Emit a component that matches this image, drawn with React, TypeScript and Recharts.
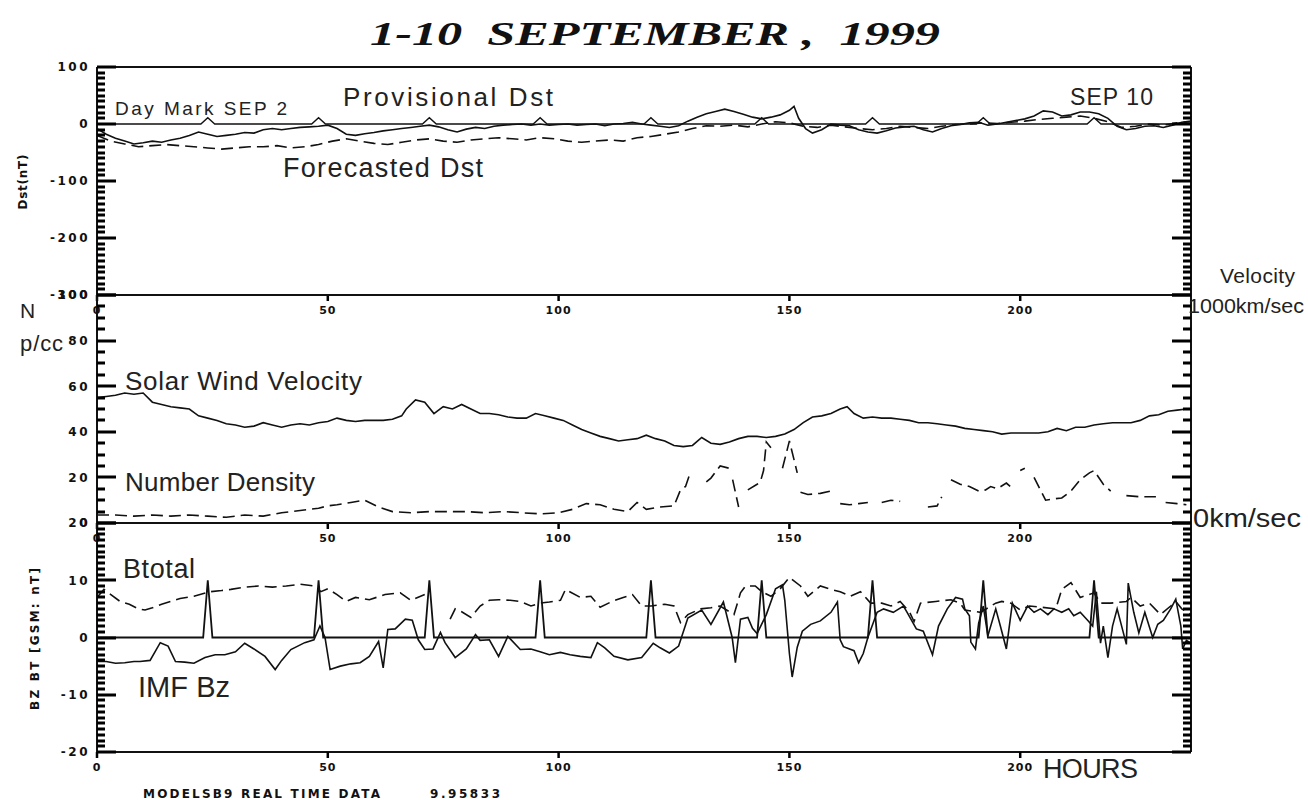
import React from "react";
import { LineChart, Line, XAxis, YAxis } from "recharts";

const W = 1308;
const H = 800;
const PLOT_LEFT = 97;
const PLOT_RIGHT = 1191;
const HOUR_MAX = 237;
const hourTicks = [0, 50, 100, 150, 200];

type Pt = [number, number | null];

// ---- top panel: Dst (nT) ----
const dstProvisional: Pt[] = [
  [0, -8], [2, -18], [4, -25], [6, -30], [8, -35], [10, -33], [12, -30], [14, -32], [16, -28], [18, -25],
  [20, -20], [22, -14], [24, -18], [26, -22], [28, -20], [30, -18], [32, -15], [34, -16], [36, -10], [38, -8],
  [40, -10], [42, -8], [44, -6], [46, -5], [48, -4], [50, -2], [52, -8], [54, -18], [56, -20], [58, -17],
  [60, -15], [62, -12], [64, -10], [66, -8], [68, -6], [70, -4], [72, -2], [74, -5], [76, -10], [78, -14],
  [80, -9], [82, -6], [84, -8], [86, -4], [88, -2], [90, -1], [92, 0], [94, -2], [96, 0], [98, -2],
  [100, -1], [102, 0], [104, -2], [106, -1], [108, 0], [110, -3], [112, 0], [114, 1], [116, 3], [118, 0],
  [120, -2], [122, -4], [124, -6], [126, -3], [128, 5], [130, 12], [132, 18], [134, 22], [136, 26], [138, 22],
  [140, 17], [142, 12], [144, 9], [146, 12], [148, 16], [150, 24], [151, 31], [152, 10], [153.5, -8], [155, -16],
  [157, -10], [159, 0], [161, -2], [163, -3], [165, -10], [167, -14], [169, -16], [171, -12], [173, -7], [175, -5],
  [177, -4], [179, -10], [181, -14], [183, -8], [185, -3], [187, -1], [189, 2], [191, 3], [193, -2], [195, 0],
  [197, 3], [199, 6], [201, 9], [203, 14], [205, 23], [207, 21], [209, 14], [211, 16], [213, 21], [215, 21],
  [217, 18], [219, 10], [221, -4], [223, -10], [225, -8], [227, -4], [229, -3], [231, -6], [233, -2], [235, 3], [237, 5],
];

const dstForecast: Pt[] = [
  [0, -20], [3, -30], [6, -35], [9, -40], [12, -38], [15, -36], [18, -38], [21, -40], [24, -42], [27, -44],
  [30, -42], [33, -40], [36, -40], [39, -38], [42, -42], [45, -40], [48, -36], [51, -30], [54, -26], [57, -30],
  [60, -34], [63, -36], [66, -32], [69, -28], [72, -26], [75, -30], [78, -32], [81, -28], [84, -26], [87, -24],
  [90, -26], [93, -28], [96, -24], [99, -26], [102, -30], [105, -32], [108, -30], [111, -28], [114, -30], [117, -24],
  [120, -22], [123, -18], [126, -14], [129, -8], [132, -3], [135, -4], [138, -2], [141, -5], [144, 0], [147, 4],
  [150, 2], [153, -4], [156, -6], [159, -2], [162, -5], [165, -8], [168, -10], [171, -8], [174, -4], [177, -6],
  [180, -8], [183, -4], [186, -1], [189, 0], [192, 2], [195, 1], [198, 3], [201, 5], [204, 8], [207, 10],
  [210, 12], [213, 14], [216, 10], [219, 4], [222, -6], [225, -4], [228, 0], [231, -2], [234, 2], [237, 4],
];

// zero line with small day-mark bumps
const dstDayMarks: Pt[] = [
  [0, 0], [22.5, 0], [24, 11], [25.5, 0], [46.5, 0], [48, 11], [49.5, 0], [70.5, 0], [72, 11], [73.5, 0],
  [94.5, 0], [96, 11], [97.5, 0], [118.5, 0], [120, 11], [121.5, 0], [142.5, 0], [144, 11], [145.5, 0],
  [166.5, 0], [168, 11], [169.5, 0], [190.5, 0], [192, 11], [193.5, 0], [214.5, 0], [216, 11], [217.5, 0], [237, 0],
];

// ---- middle panel: velocity (x10 km/s) and density (p/cc) ----
const velocity: Pt[] = [
  [0, 55], [2, 55.5], [4, 56], [6, 57], [8, 56.5], [10, 57], [12, 53], [14, 52], [16, 51], [18, 50.5],
  [20, 50], [22, 47], [24, 46], [26, 45], [28, 43.5], [30, 43], [32, 42], [34, 42.5], [36, 44], [38, 43],
  [40, 42], [42, 43], [44, 43.5], [46, 43], [48, 44], [50, 44.5], [52, 46], [54, 45], [56, 44.5], [58, 45],
  [60, 45], [62, 45], [64, 45.5], [66, 47], [67, 50], [69, 54], [71, 53], [73, 48], [75, 51], [77, 50],
  [79, 52], [81, 50], [83, 48], [85, 48], [87, 47.5], [89, 46.5], [91, 46], [93, 46], [95, 48], [97, 47],
  [99, 46], [101, 45], [103, 43], [105, 41], [107, 39.5], [109, 38], [111, 37], [113, 36], [115, 36.5], [117, 37],
  [119, 38.5], [121, 37], [123, 36], [125, 34], [127, 33.5], [129, 34], [131, 37.5], [133, 35], [135, 34.5], [137, 35.5],
  [139, 37], [141, 38], [143, 38], [145, 37.5], [147, 38], [149, 39], [151, 41], [153, 44], [155, 46.5], [157, 47],
  [159, 48], [161, 50], [162.5, 51], [164, 48], [166, 46], [168, 46.5], [170, 46], [172, 46], [174, 45.5], [176, 45],
  [178, 44], [180, 44], [182, 43.5], [184, 43], [186, 42.5], [188, 41.5], [190, 41], [192, 40.5], [194, 40], [196, 39],
  [198, 39.5], [200, 39.5], [202, 39.5], [204, 39.5], [206, 40], [208, 41.5], [210, 40.5], [212, 42], [214, 42], [216, 43],
  [218, 43.5], [220, 44], [222, 44], [224, 44], [226, 45], [228, 47], [230, 47.5], [232, 49], [234, 49.5], [236, 50], [237, 50],
];

const density: Pt[] = [
  [0, 3.5], [4, 3.5], [8, 3], [12, 3.5], [16, 3], [20, 3.5], [24, 3], [28, 2.5], [32, 3.5], [36, 3],
  [40, 4.5], [44, 5.5], [48, 6.5], [50, 7.5], [52, 8], [55, 9], [58, 10], [61, 7], [64, 5], [68, 4.5],
  [72, 5], [76, 5], [80, 5], [84, 4.5], [88, 5], [92, 4.5], [96, 4], [100, 4.5], [103, 6], [106, 8.5],
  [109, 8], [112, 6], [115, 5], [117, 9], [119, 6], [122, 7], [125, 7.5], [126.4, 14.5], [127.5, 16], [128.5, 22],
  [129.5, null], [132, 18], [133, 19.7], [135, 25], [137, 24], [137.5, null], [137.7, 19], [139, 7], [139.6, null], [141, 14.5],
  [143, 17], [143.7, 18], [144.4, 23], [145, 35.5], [146, 33], [146.5, null], [148.5, 24], [150, 36], [151.7, 22], [152, null],
  [152.4, 13.5], [154, 12.5], [156.7, 13], [159, 14], [160, null], [161, 8.5], [163, 8], [165, 8.5], [167, 9], [168, null],
  [170, 9], [172, 10], [174, 9.5], [176, null], [180, 7], [182, 7.5], [183, 11.5], [184, null], [185, 19], [187, 17],
  [189, 16], [191, 14], [192.5, 14.5], [193.6, 16], [195, 15], [197, 17.5], [198.4, 15], [199.5, null], [200, 23], [201, 24],
  [202, null], [203, 20], [205.5, 10], [207, 10.5], [209, 11], [211, 14], [213, 19], [215, 22], [216, 23], [218, 17],
  [219.6, 14], [221, null], [223, 12], [226, 11.5], [229.4, 11.5], [230, null], [231.5, 9], [234, 8.5], [236, 8],
];

// ---- bottom panel: IMF (nT) ----
const btotal: Pt[] = [
  [0, 7], [1.5, 8.4], [3, 7.5], [5, 6.3], [7, 5.8], [9, 5], [10.4, 4.8], [12, 5.2], [14, 5.8], [16, 6.3],
  [18, 6.8], [21, 7.2], [24.5, 8], [27, 8.2], [29, 8.4], [32, 8.8], [35, 9], [38, 8.8], [41, 9], [44, 9.3],
  [47, 9], [48.5, 8], [50, 8.5], [52, 7.5], [54, 6.3], [56, 7], [59, 6.6], [62.4, 7.5], [65.7, 7.8], [68, 6.5],
  [71, 7.5], [73, null], [76.5, 3.2], [77.6, 5], [79, 4.5], [81, 3.5], [83, 5.5], [85, 6.5], [87, 6.6], [89.5, 6.5],
  [91.7, 6.3], [94, 5.5], [96, 6], [98, 6.2], [100.4, 6.5], [101.5, 8.4], [104.7, 7], [107, 7.2], [109, 5.3], [111.6, 6.3],
  [114, 7], [116, 7.5], [118, 5.5], [120, 5.5], [123, 5.8], [125, 5.5], [126.4, 2.6], [128, 4], [130.7, 5], [133, 5.2],
  [135, 5.5], [138, 4], [139.4, 7.8], [140.5, 9], [142.6, 9], [144, 8], [146, 7.2], [148, 8.5], [150, 10.5], [152.4, 9],
  [154, 7.2], [156.7, 9], [159, 8.4], [161, 8], [163.2, 7.2], [165.4, 8], [167.6, 6], [170, 6], [172, 5.5], [174, 6.3],
  [176, 4.5], [177, 2.8], [178.4, 6], [181.7, 6.3], [185, 6.6], [187, 6], [188, 4.8], [191.4, 4.4], [194.7, 6], [196, 6.3],
  [198, 6], [200, 4.8], [202, 5.5], [204.4, 5.3], [207.7, 5], [209, 8.4], [211, 9.6], [213, 7], [216, 7.8], [217.4, 6],
  [219.6, 6], [223, 6.3], [224, 7], [226, 5.5], [228, 6], [230.4, 4], [232.6, 5.5], [233.7, 6.3], [235, 5], [237, 4],
];

const bz: Pt[] = [
  [0, -4.2], [2, -4.2], [4, -4.5], [6, -4.4], [8, -4.2], [9.3, -4.2], [11.5, -4], [13.7, -0.9], [15.4, -1.5], [17, -4.2],
  [19, -4.3], [21, -4.5], [23.4, -3.5], [25.6, -3], [27.7, -3], [30, -2.5], [32, -1], [34, -2], [36.4, -3.3], [38.6, -5.6],
  [40, -4], [42, -2.1], [45, -0.9], [47, -0.4], [48.3, 2], [49.4, 0], [50.5, -5.6], [52.7, -5], [55, -4.6], [57, -4.4],
  [59, -3.3], [61, -0.7], [62, -5.3], [63, 1.4], [64.6, 1.5], [66.8, 3.2], [68.3, 3], [69.6, -0.4], [71, -2.1], [72.8, -2],
  [74.4, 0.9], [75.4, -0.9], [77.6, -3.5], [80, -2], [82, 0.5], [83, -0.5], [85, -0.4], [87, -3.3], [89, 0.2], [91.7, -2.1],
  [94, -2], [96, -2.5], [98, -3], [100.4, -2.6], [102.5, -3], [104.7, -3.3], [107, -3.5], [108.4, -0.9], [110, -1.8], [112, -3.3],
  [115, -3.9], [118, -3.5], [120.5, -1], [122, -1.8], [124, -2.7], [126, -1.5], [128, 3.4], [131, 4.8], [133, 2.3], [135.7, 6.2],
  [137.6, 0], [138.3, -4.4], [139.4, 3.2], [141, 3.5], [142, 1.6], [143, 0.7], [145, 4], [147, 8.5], [148.5, 9.2], [149, 6.5],
  [150, -2.8], [150.6, -6.9], [151.7, -1.7], [152.8, 1.1], [154.6, 2.3], [156.7, 2.9], [159, 4.4], [160.4, 6.2], [161, -0.4], [161.7, -1.6],
  [164, -2.3], [165, -4.4], [166, -2.8], [167, 0], [169, 4.4], [170.4, 5], [172.5, 4.4], [174.7, 5.5], [175.5, 4.4], [177.5, 1.5],
  [179, 1.1], [181, -3], [182.3, 2], [184.2, 5], [186, 7], [187.5, 6.7], [188, 5], [189, 3.8], [189.3, -0.8], [190.3, -2],
  [191, 2.5], [192, 5.5], [193, 0.3], [194.7, 5], [195.7, 2], [197, -2], [198.3, 6], [200, 3], [201.6, 5.5], [203, 4.4],
  [204.4, 5], [206, 4], [207.3, 5], [209, 4.4], [210.5, 5], [211.6, 3.8], [213, 4.4], [214.6, 3], [215.7, 2], [216.5, 8],
  [217.4, -1], [218, 2], [219, -3.5], [220, 2], [221, 5], [223, -1.2], [223.4, 9.5], [224.6, 4.4], [225.7, 0.8], [227, 4.4],
  [228.7, 0], [229.8, 2.3], [231, 3], [232.6, 5], [233.7, 6.7], [234.8, 2], [235.2, -2], [236, -0.5], [237, -1],
];

// zero line with tall day-mark spikes
const imfDayMarks: Pt[] = [
  [0, 0], [23, 0], [24, 10], [25, 0], [47, 0], [48, 10], [49, 0], [71, 0], [72, 10], [73, 0],
  [95, 0], [96, 10], [97, 0], [119, 0], [120, 10], [121, 0], [143, 0], [144, 10], [145, 0],
  [167, 0], [168, 10], [169, 0], [191, 0], [192, 10], [193, 0], [215, 0], [216, 10], [217, 0], [237, 0],
];

const range = (a: number, b: number, step: number) =>
  Array.from({ length: Math.round((b - a) / step) + 1 }, (_, i) => a + i * step);

const pts = (s: Pt[]) => s.map(([h, v]) => ({ h, v }));

const INK = "#111";
const tickFont = { fontFamily: "DejaVu Sans", fontWeight: "bold" as const, fontSize: 12, fill: INK };
const axisStroke = { stroke: INK, strokeWidth: 2 };

// inward tick bar (long for majors), with a label on the left side
function YTick(props: any) {
  const { x, y, payload, side, majors, showLabel } = props;
  const v = Number(payload?.value);
  const px = Number(x);
  const py = Math.round(Number(y));
  const major = majors.indexOf(v) >= 0;
  const len = major ? 19 : 8;
  const bx = side === "left" ? px : px - len;
  return (
    <g>
      <rect x={bx} y={py - 1.5} width={len} height={3} fill="#000" />
      {showLabel && major && (
        <text x={px - 7} y={Number(y)} dy="0.36em" textAnchor="end" letterSpacing={2.5} {...tickFont}>
          {v}
        </text>
      )}
    </g>
  );
}

type Series = { data: Pt[]; dashed?: boolean; width?: number };

function Panel({ top, bottom, domain, majors, minor, lines }: {
  top: number; bottom: number; domain: [number, number]; majors: number[]; minor: number; lines: Series[];
}) {
  const ticks = range(domain[0], domain[1], minor);
  return (
    <div style={{ position: "absolute", left: 0, top: 0 }}>
      <LineChart
        width={W}
        height={H}
        margin={{ top: top - 1, bottom: H - bottom - 1, left: PLOT_LEFT - 1, right: W - PLOT_RIGHT - 1 }}
      >
        <XAxis
          dataKey="h" type="number" domain={[0, HOUR_MAX]} ticks={hourTicks} interval={0} height={1}
          allowDataOverflow axisLine={axisStroke} tickLine={{ stroke: "#000", strokeWidth: 2.5 }}
          tickSize={6} tickMargin={5} tick={{ ...tickFont, fontSize: 11, letterSpacing: 1 }}
        />
        <XAxis
          xAxisId="top" orientation="top" type="number" domain={[0, HOUR_MAX]} ticks={hourTicks} interval={0}
          height={1} axisLine={axisStroke} tickLine={{ stroke: "#000", strokeWidth: 2.5 }} tickSize={-6} tick={false}
        />
        <YAxis
          type="number" domain={domain} ticks={ticks} interval={0} width={1} allowDataOverflow
          axisLine={axisStroke} tickLine={false} tickSize={0} tickMargin={0}
          tick={(p: any) => <YTick {...p} side="left" majors={majors} showLabel />}
        />
        <YAxis
          yAxisId="r" orientation="right" type="number" domain={domain} ticks={ticks} interval={0} width={1}
          allowDataOverflow axisLine={axisStroke} tickLine={false} tickSize={0} tickMargin={0}
          tick={(p: any) => <YTick {...p} side="right" majors={majors} showLabel={false} />}
        />
        {lines.map((s, i) => (
          <Line
            key={i}
            data={pts(s.data)}
            dataKey="v"
            type="linear"
            stroke={INK}
            strokeWidth={s.width ?? 1.6}
            strokeDasharray={s.dashed ? "12 6" : undefined}
            dot={false}
            connectNulls={false}
            isAnimationActive={false}
          />
        ))}
      </LineChart>
    </div>
  );
}

const label = { fontFamily: "Liberation Sans", fill: "#222" };

export default function App() {
  return (
    <div style={{ position: "absolute", left: 0, top: 0, width: W, height: H, background: "#fff", overflow: "hidden" }}>
      <Panel top={67} bottom={295} domain={[-300, 100]} majors={[-300, -200, -100, 0, 100]} minor={10}
        lines={[{ data: dstDayMarks, width: 1.4 }, { data: dstProvisional }, { data: dstForecast, dashed: true }]} />
      <Panel top={295} bottom={523} domain={[0, 100]} majors={[0, 20, 40, 60, 80, 100]} minor={5}
        lines={[{ data: velocity }, { data: density, dashed: true }]} />
      <Panel top={523} bottom={752} domain={[-20, 20]} majors={[-20, -10, 0, 10, 20]} minor={1}
        lines={[{ data: imfDayMarks, width: 1.8 }, { data: btotal, dashed: true }, { data: bz }]} />
      <svg width={W} height={H} style={{ position: "absolute", left: 0, top: 0, pointerEvents: "none" }}>
        <text x={370} y={45} textLength={570} lengthAdjust="spacingAndGlyphs" style={{ whiteSpace: "pre" }}
          fontFamily="Liberation Serif" fontStyle="italic" fontWeight="bold" fontSize={34} fill={INK}>
          1-10  SEPTEMBER ,  1999
        </text>
        <text x={115} y={115} fontSize={19} textLength={172} {...label}>Day Mark SEP 2</text>
        <text x={343} y={106} fontSize={26} textLength={210} {...label}>Provisional Dst</text>
        <text x={283} y={177} fontSize={27} textLength={200} {...label}>Forecasted Dst</text>
        <text x={1070} y={105} fontSize={23} textLength={83} {...label}>SEP 10</text>
        <text x={1220} y={283} fontSize={21} textLength={75} {...label}>Velocity</text>
        <text x={1188} y={313} fontSize={21} textLength={116} lengthAdjust="spacingAndGlyphs" {...label}>1000km/sec</text>
        <text x={20} y={318} fontSize={21} {...label}>N</text>
        <text x={20} y={351} fontSize={22} textLength={43} {...label}>p/cc</text>
        <text x={125} y={390} fontSize={26} textLength={237} {...label}>Solar Wind Velocity</text>
        <text x={125} y={491} fontSize={26} textLength={190} {...label}>Number Density</text>
        <text x={1193} y={527} fontSize={26} textLength={108} lengthAdjust="spacingAndGlyphs" {...label}>0km/sec</text>
        <text x={123} y={578} fontSize={27} textLength={72} {...label}>Btotal</text>
        <text x={138} y={697} fontSize={29} textLength={92} {...label}>IMF Bz</text>
        <text x={1043} y={778} fontSize={27} textLength={95} {...label}>HOURS</text>
        <text x={143} y={798} fontSize={10} textLength={237} {...tickFont}>MODELSB9 REAL TIME DATA</text>
        <text x={430} y={798} fontSize={10} textLength={70} {...tickFont}>9.95833</text>
        <text transform="translate(27,182) rotate(-90)" textAnchor="middle" fontSize={10} textLength={55} {...tickFont}>Dst(nT)</text>
        <text transform="translate(39,639) rotate(-90)" textAnchor="middle" fontSize={10} textLength={142} {...tickFont}>BZ BT [GSM: nT]</text>
      </svg>
    </div>
  );
}
